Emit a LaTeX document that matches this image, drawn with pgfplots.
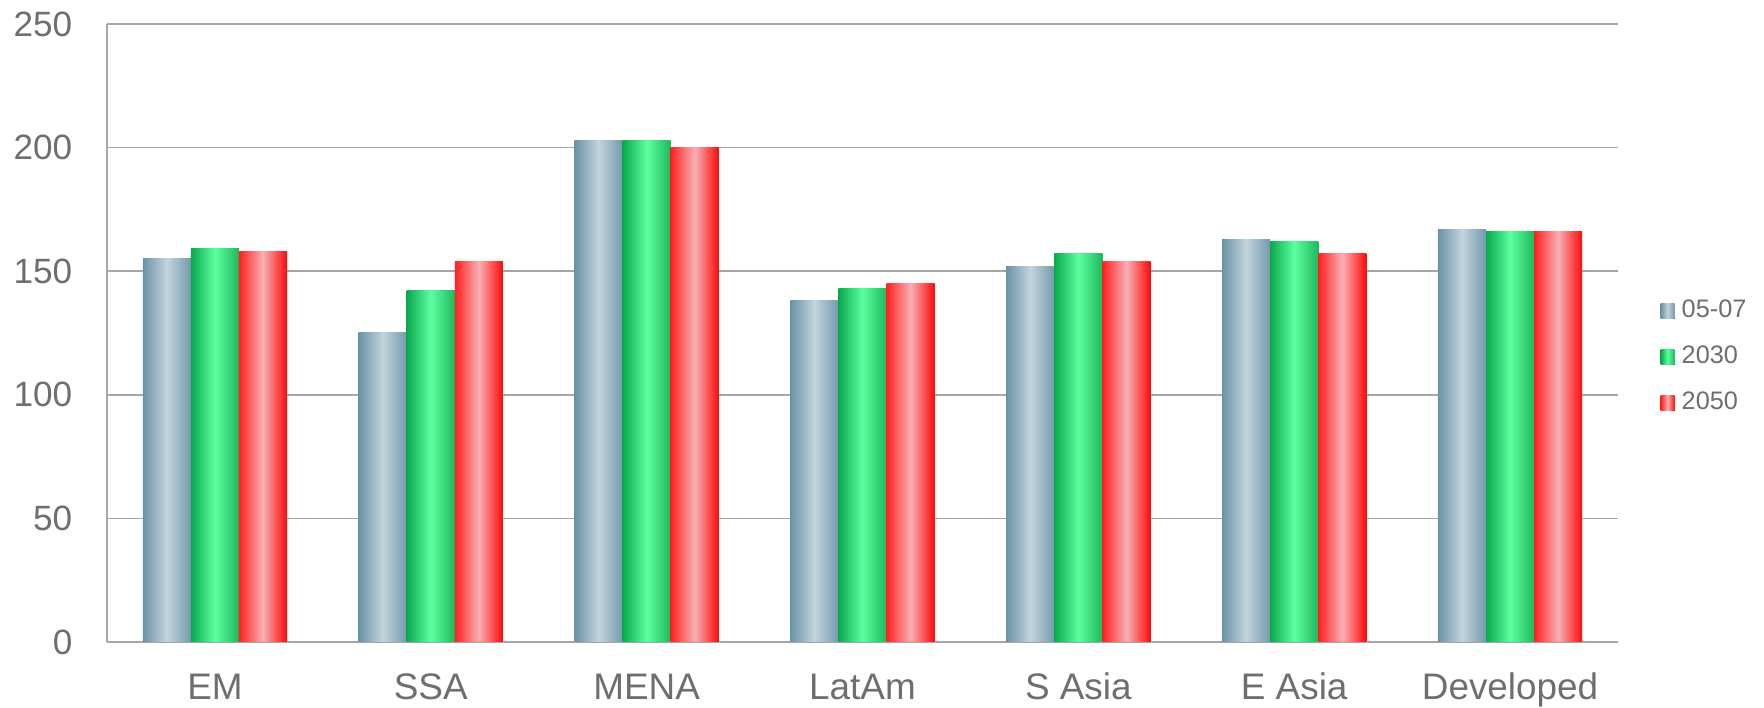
\documentclass[border=0pt]{standalone}
\usepackage{pgfplots}
\usepackage{pgfplotstable}
\pgfplotsset{compat=1.18}
\usepackage{fontspec}
\setmainfont{Liberation Sans}

\definecolor{txt}{HTML}{6E6E6E}
\definecolor{gridc}{HTML}{A6A6A6}
\definecolor{bA}{HTML}{6A92A6}
\definecolor{bB}{HTML}{C3D4DC}
\definecolor{bC}{HTML}{7399AC}
\definecolor{gA}{HTML}{0BA84E}
\definecolor{gB}{HTML}{5CFFA0}
\definecolor{gC}{HTML}{1DB85C}
\definecolor{rA}{HTML}{FF2020}
\definecolor{rB}{HTML}{F7B0B4}
\definecolor{rC}{HTML}{FF0808}

% x: EM, SSA, MENA, LatAm, S Asia, E Asia, Developed
\pgfplotstableread{
x  a    b    c
0  155  159  158
1  125  142  154
2  203  203  200
3  138  143  145
4  152  157  154
5  163  162  157
6  167  166  166
}\data

\pgfplotsset{
  sA/.style={draw=none, left color=bA, right color=bC, middle color=bB},
  sB/.style={draw=none, left color=gA, right color=gC, middle color=gB},
  sC/.style={draw=none, left color=rA, right color=rC, middle color=rB},
}

\begin{document}
\begin{tikzpicture}
\begin{axis}[
  scale only axis,
  width=15.11cm, height=6.18cm,
  xmin=-0.5, xmax=6.5,
  ymin=0, ymax=250,
  ytick={0,50,...,250},
  xtick={0,...,6},
  xticklabels={EM,SSA,MENA,LatAm,S Asia,E Asia,Developed},
  ybar, bar width=0.481cm,
  axis lines=left,
  axis line style={-, draw=gridc, line width=0.45pt},
  ymajorgrids,
  grid style={draw=gridc, line width=0.45pt},
  major tick length=0pt,
  tick style={draw=none},
  /pgf/number format/assume math mode=true,
  ticklabel style={text=txt},
  yticklabel style={anchor=east, inner sep=0pt, xshift=-0.34cm, font=\fontsize{10}{12}\selectfont},
  xticklabel style={anchor=base, inner sep=0pt, yshift=-0.58cm, font=\fontsize{10.5}{12}\selectfont},
  legend style={at={(1,0.461)}, anchor=west, xshift=0.42cm, draw=none, fill=none,
    inner sep=0pt, row sep=0.23cm, font=\fontsize{7.2}{8.5}\selectfont, text=txt,
    nodes={inner sep=0pt},
    /tikz/every odd column/.append style={column sep=0.07cm}},
  legend cell align=left,
  legend image code/.code={\fill[#1] (0cm,-0.075cm) rectangle (0.14cm,0.075cm);},
]
\coordinate (O) at (rel axis cs:0,0);
% one bar per plot, so that each bar gets its own gradient
\pgfplotsinvokeforeach{0,...,6}{
  \addplot[sA, bar shift=-0.481cm, forget plot, restrict x to domain=#1:#1]
    table[x=x, y=a] {\data};
  \addplot[sB, bar shift=0cm, forget plot, restrict x to domain=#1:#1]
    table[x=x, y=b] {\data};
  \addplot[sC, bar shift=0.481cm, forget plot, restrict x to domain=#1:#1]
    table[x=x, y=c] {\data};
}
\addlegendimage{sA}\addlegendentry{05-07}
\addlegendimage{sB}\addlegendentry{2030}
\addlegendimage{sC}\addlegendentry{2050}
\end{axis}
\pgfresetboundingbox
\path (O) ++(-1.07cm,-0.66cm) rectangle ++(17.64cm,7.08cm);
\end{tikzpicture}
\end{document}
